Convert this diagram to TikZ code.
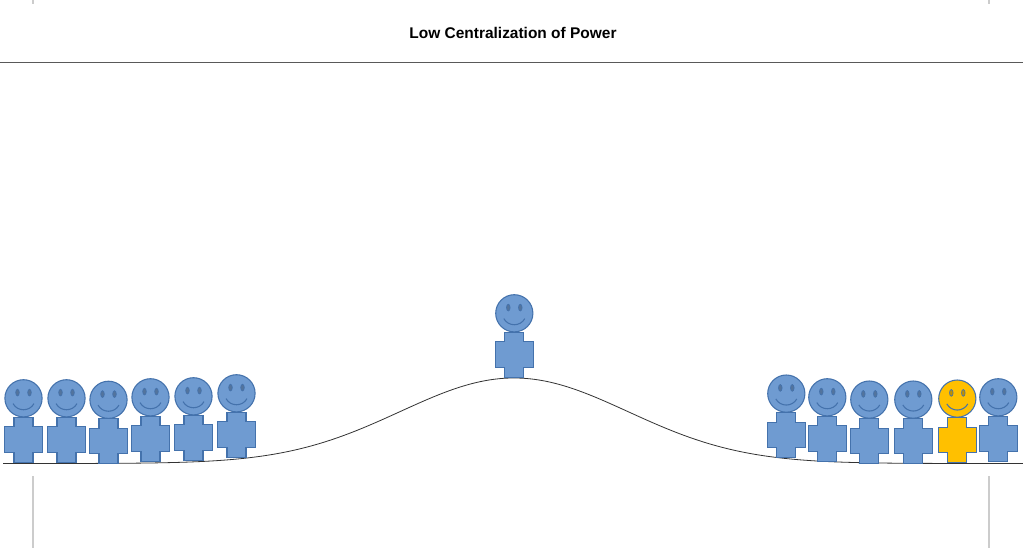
\documentclass[tikz,border=0pt]{standalone}
\usepackage{fontspec}
\setmainfont{Liberation Sans}
\definecolor{personblue}{HTML}{6F9BD1}
\definecolor{personyellow}{HTML}{FFC000}
\definecolor{personline}{HTML}{4472AC}

\tikzset{
	pics/person/.style={code={
		\draw[personline, line width=0.8pt, fill=#1] (0,0) circle [radius=18.6];
		\draw[personline, line width=0.5pt, fill=#1!75!black] (-6,-5.7) ellipse [x radius=1.8, y radius=3.4];
		\draw[personline, line width=0.5pt, fill=#1!75!black] (6,-5.7) ellipse [x radius=1.8, y radius=3.4];
		\draw[personline, line width=0.8pt] (-10.5,5.3) .. controls (-6,13.5) and (6,13.5) .. (10.5,5.3);
		\draw[personline, line width=0.8pt, fill=#1] (-9.5,19) -- (9.5,19) -- (9.5,28.5) -- (19,28.5) -- (19,54) -- (9.5,54) -- (9.5,64) -- (-9.5,64) -- (-9.5,54) -- (-19,54) -- (-19,28.5) -- (-9.5,28.5) -- cycle;
	}}
}

\begin{document}
\begin{tikzpicture}[x=0.75pt, y=-0.75pt]
	\useasboundingbox (0,0) rectangle (1023,548);
	\node[font=\bfseries\fontsize{11.6}{14}\selectfont] (title) at (513,32.5) {Low Centralization of Power};
	\draw[black!65, line width=0.8pt] (0,62.5) -- (1023,62.5);
	% crop marks
	\foreach \cropx in {33,989} {
		\draw[black!20, line width=0.8pt] (\cropx,0) -- (\cropx,4);
		\draw[black!20, line width=0.8pt] (\cropx,476) -- (\cropx,548);
	}
	% bell curve
	\draw[black!80, line width=0.6pt] plot[smooth, samples=200, domain=3:1023] (\x,{463.5-85.5*exp(-0.5*((\x-514)/114)^2)});
	\foreach \px/\py in {23.5/398.3, 66.5/398.3, 108.5/399.8, 150.5/397.3, 193.5/396.3, 236.5/393.3, 514.3/313.3, 786.3/393.6, 827.3/397.3, 869.3/399.6, 913.3/399.6, 998.3/397.3}
		\pic at (\px,\py) {person=personblue};
	\pic at (957.3,398.6) {person=personyellow};
\end{tikzpicture}
\end{document}
